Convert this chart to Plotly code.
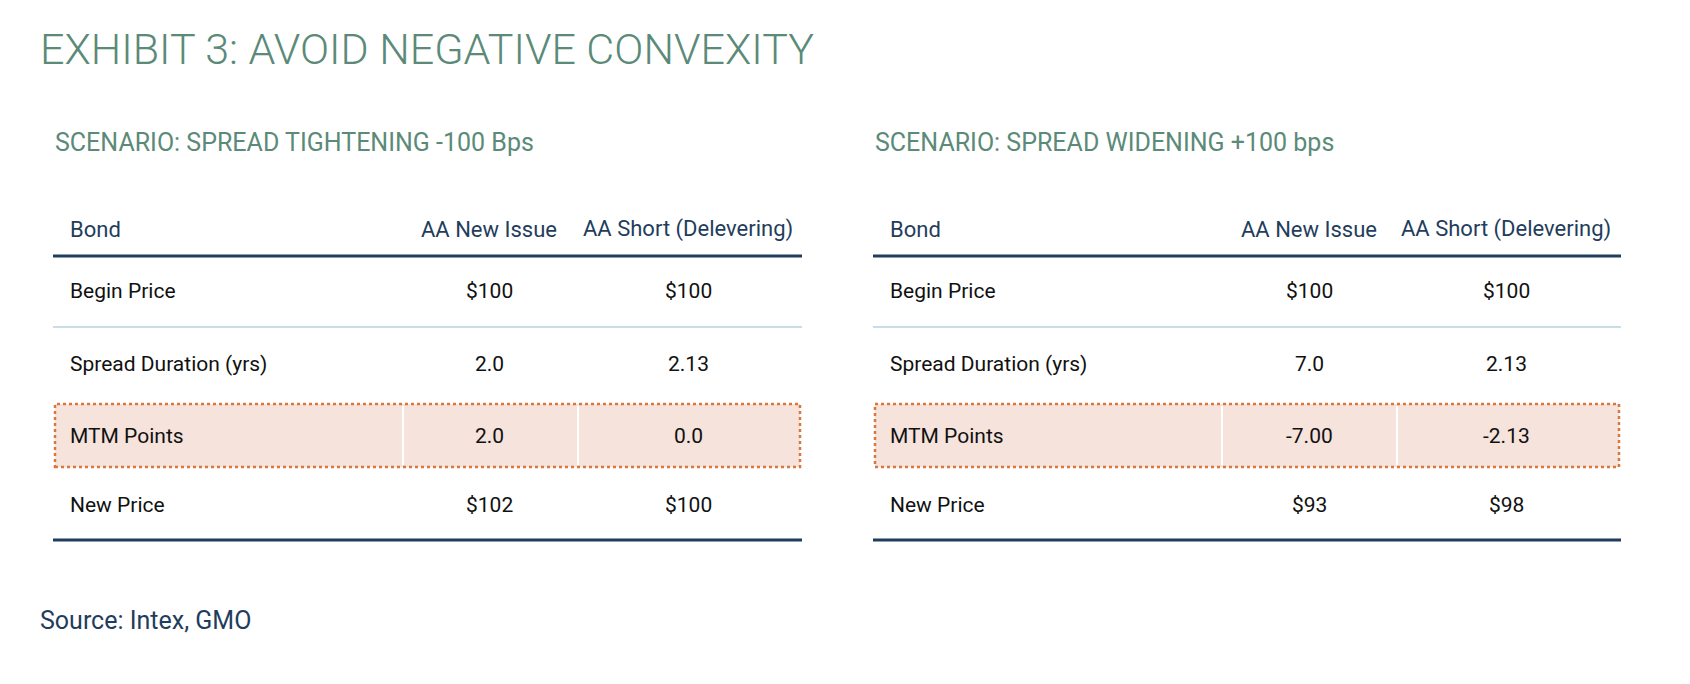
import plotly.graph_objects as go

W, H = 1690, 684

title = "EXHIBIT 3: AVOID NEGATIVE CONVEXITY"
source = "Source: Intex, GMO"
headers = ["Bond", "AA New Issue", "AA Short (Delevering)"]
row_labels = ["Begin Price", "Spread Duration (yrs)", "MTM Points", "New Price"]

left_title = "SCENARIO: SPREAD TIGHTENING -100 Bps"
left_new_issue = ["$100", "2.0", "2.0", "$102"]
left_short = ["$100", "2.13", "0.0", "$100"]

right_title = "SCENARIO: SPREAD WIDENING +100 bps"
right_new_issue = ["$100", "7.0", "-7.00", "$93"]
right_short = ["$100", "2.13", "-2.13", "$98"]

GREEN = "#5b8a78"
NAVY = "#1f3d5c"
FONT = "Roboto, sans-serif"

fig = go.Figure()


def px(x):
    return x / W


def py(y):
    return 1 - y / H


def text(x, y, s, size, color="#111", anchor="left", weight=400):
    fig.add_annotation(x=px(x), y=py(y), xref="paper", yref="paper", text=s,
                       showarrow=False, xanchor=anchor, yanchor="middle",
                       font=dict(family=FONT, size=size, color=color, weight=weight))


def line(x0, x1, y, color, width):
    fig.add_shape(type="line", xref="paper", yref="paper", x0=px(x0), x1=px(x1),
                  y0=py(y), y1=py(y), line=dict(color=color, width=width))


def table(x0, x1, sub, c1, c2, col1, col2, div1, div2):
    text(x0, 134, sub, 25, GREEN)
    text(x0 + 15, 221, headers[0], 22, NAVY)
    text(col1, 221, headers[1], 22, NAVY, "center")
    text(col2, 221, headers[2], 22, NAVY, "center")
    line(x0, x1, 248, NAVY, 3)
    line(x0, x1, 319, "#c9dde8", 2)
    line(x0, x1, 532, NAVY, 3)
    # highlighted MTM row
    fig.add_shape(type="rect", xref="paper", yref="paper", x0=px(x0 + 2), x1=px(x1 - 2),
                  y0=py(459), y1=py(396), fillcolor="#f5e3dc",
                  line=dict(color="#d9773f", width=2.5, dash="dot"), layer="below")
    for d in (div1, div2):
        fig.add_shape(type="line", xref="paper", yref="paper", x0=px(d), x1=px(d),
                      y0=py(457), y1=py(398), line=dict(color="white", width=2))
    ys = [283, 356, 428, 497]
    for lab, a, b, y in zip(row_labels, c1, c2, ys):
        text(x0 + 15, y, lab, 21)
        text(col1, y, a, 21, anchor="center")
        text(col2, y, b, 21, anchor="center")


table(45, 794, left_title, left_new_issue, left_short, 481, 680, 395, 570)
table(865, 1613, right_title, right_new_issue, right_short, 1301, 1498, 1214, 1389)

text(30, 41, title, 43, GREEN, weight=300)
text(30, 612, source, 25, NAVY)

fig.update_xaxes(visible=False)
fig.update_yaxes(visible=False)
fig.update_layout(width=W, height=H, margin=dict(l=0, r=0, t=0, b=0),
                  plot_bgcolor="white", paper_bgcolor="white", showlegend=False)
fig.write_html("out.html")
